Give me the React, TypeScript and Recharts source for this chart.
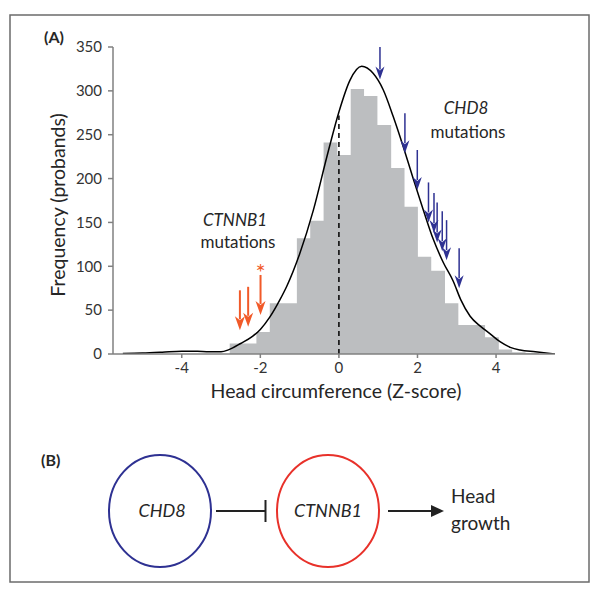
import React from "react";
import {
  ComposedChart,
  Area,
  Line,
  Scatter,
  XAxis,
  YAxis,
  ReferenceLine,
} from "recharts";

// ---- Data ----
const binEdges = [
  -2.78, -2.44, -2.1, -1.76, -1.41, -1.07, -0.73, -0.39, -0.04, 0.3, 0.64,
  0.98, 1.33, 1.67, 2.01, 2.35, 2.7, 3.04, 3.38, 3.72, 4.07, 4.41, 4.75, 5.09,
];
const binCounts = [
  12, 12, 25, 58, 58, 132, 152, 241, 227, 302, 294, 261, 212, 168, 111, 95, 58,
  33, 33, 19, 5, 2, 1, 0,
];

const curveZ = [
  -5.5, -5.0, -4.5, -4.0, -3.6, -3.3, -3.0, -2.8, -2.5, -2.2, -2.0, -1.76,
  -1.5, -1.33, -1.0, -0.65, -0.3, 0, 0.28, 0.58, 0.87, 1.13, 1.38, 1.64, 1.89,
  2.15, 2.4, 2.66, 2.91, 3.1, 3.34, 3.59, 3.85, 4.1, 4.36, 4.61, 5.0, 5.5,
];
const curveDensity = [
  0.5, 1, 2, 3.2, 3, 2.5, 2.5, 5, 12, 20, 28, 42, 62, 77, 114, 164, 226, 276,
  312, 328, 320, 301, 271, 236, 200, 164, 131, 104, 83, 62, 43, 32, 23, 14, 7.6,
  4.5, 2.5, 0,
];

const chd8ArrowZ = [1.045, 1.68, 1.995, 2.28, 2.42, 2.5, 2.63, 2.74, 3.06];
const chd8ArrowTip = [313, 229, 187, 150, 138, 127, 117, 107, 75];

const ctnnb1ArrowZ = [-2.52, -2.31, -1.995];
const ctnnb1ArrowTip = [27, 31, 44.5];
const ctnnb1Starred = [false, false, true];

const xTicks = [-4, -2, 0, 2, 4];
const yTicks = [0, 50, 100, 150, 200, 250, 300, 350];
const xDomain = [-5.75, 5.5];
const yDomain = [0, 350];
const meanLineTop = 272;

const histData = binEdges.map((z, i) => ({ z, count: binCounts[i] }));
const curveData = curveZ.map((z, i) => ({ z, density: curveDensity[i] }));
const chd8Data = chd8ArrowZ.map((z, i) => ({ z, tip: chd8ArrowTip[i] }));
const ctnnb1Data = ctnnb1ArrowZ.map((z, i) => ({
  z,
  tip: ctnnb1ArrowTip[i],
  star: ctnnb1Starred[i],
}));

// ---- Styles ----
const FONT = "Lato, 'Open Sans', sans-serif";
const BLUE = "#2e3192";
const ORANGE = "#f15a29";
const RED = "#e8312a";
const GRAY_BAR = "#bcbec0";
const AXIS_GRAY = "#808080";
const TEXT = "#262626";

const makeArrow =
  (color: string, shaftW: number, headW: number, headL: number) =>
  (props: any) => {
    const { cx, cy, payload } = props;
    if (cx == null || cy == null) return null;
    const len = 40;
    return (
      <g>
        <line
          x1={cx}
          y1={cy - len}
          x2={cx}
          y2={cy - headL + 3}
          stroke={color}
          strokeWidth={shaftW}
        />
        <path
          d={`M${cx},${cy} L${cx - headW / 2},${cy - headL} L${cx},${
            cy - headL + 4
          } L${cx + headW / 2},${cy - headL} Z`}
          fill={color}
        />
        {payload && payload.star ? (
          <text
            x={cx}
            y={cy - len + 6}
            textAnchor="middle"
            fontFamily={FONT}
            fontSize={24}
            fill={color}
          >
            *
          </text>
        ) : null}
      </g>
    );
  };

const BlueArrow = makeArrow(BLUE, 1.5, 9, 13);
const OrangeArrow = makeArrow(ORANGE, 2, 10, 14);

const B_Y = 511;

export default function App() {
  return (
    <div
      style={{
        position: "absolute",
        left: 0,
        top: 0,
        width: 601,
        height: 590,
        background: "#fff",
      }}
    >
      <ComposedChart
        width={601}
        height={590}
        margin={{ top: 47, right: 46, bottom: 206, left: 53 }}
        style={{ position: "absolute", left: 0, top: 0 }}
      >
        <XAxis
          type="number"
          dataKey="z"
          domain={xDomain}
          ticks={xTicks}
          allowDataOverflow
          height={30}
          stroke={AXIS_GRAY}
          strokeWidth={1.5}
          tickSize={4}
          tickMargin={4}
          tick={{ fill: "#333", fontFamily: FONT, fontSize: 15 }}
        />
        <YAxis
          type="number"
          domain={yDomain}
          ticks={yTicks}
          allowDataOverflow
          width={60}
          stroke={AXIS_GRAY}
          strokeWidth={1.5}
          tickSize={5}
          tickMargin={6}
          tick={{ fill: "#333", fontFamily: FONT, fontSize: 15 }}
        />
        <Area
          data={histData}
          dataKey="count"
          type="stepAfter"
          fill={GRAY_BAR}
          fillOpacity={1}
          stroke="none"
          isAnimationActive={false}
          baseValue={0}
        />
        <ReferenceLine
          segment={[
            { x: 0, y: 0 },
            { x: 0, y: meanLineTop },
          ]}
          stroke="#000"
          strokeWidth={1.5}
          strokeDasharray="5 4"
        />
        <Line
          data={curveData}
          dataKey="density"
          type="monotone"
          stroke="#000"
          strokeWidth={1.5}
          dot={false}
          isAnimationActive={false}
        />
        <Scatter
          data={chd8Data}
          dataKey="tip"
          shape={BlueArrow}
          isAnimationActive={false}
        />
        <Scatter
          data={ctnnb1Data}
          dataKey="tip"
          shape={OrangeArrow}
          isAnimationActive={false}
        />
      </ComposedChart>
      <svg
        width={601}
        height={590}
        style={{ position: "absolute", left: 0, top: 0, pointerEvents: "none" }}
      >
        <rect
          x={10}
          y={15}
          width={579}
          height={567}
          fill="none"
          stroke="#6b6b6b"
          strokeWidth={1.5}
        />
        <text
          x={44}
          y={43}
          fontFamily={FONT}
          fontWeight="bold"
          fontSize={16}
          fill={TEXT}
        >
          (A)
        </text>
        <text
          x={57}
          y={205}
          transform="rotate(-90 57 205)"
          textAnchor="middle"
          dominantBaseline="central"
          fontFamily={FONT}
          fontSize={19.5}
          fill={TEXT}
        >
          Frequency (probands)
        </text>
        <text
          x={336}
          y={398}
          textAnchor="middle"
          fontFamily={FONT}
          fontSize={19.5}
          fill={TEXT}
        >
          Head circumference (Z-score)
        </text>
        <text
          x={235}
          y={226}
          textAnchor="middle"
          fontFamily={FONT}
          fontStyle="italic"
          fontSize={17}
          fill={TEXT}
        >
          CTNNB1
        </text>
        <text
          x={238}
          y={248}
          textAnchor="middle"
          fontFamily={FONT}
          fontSize={17}
          fill={TEXT}
        >
          mutations
        </text>
        <text
          x={466}
          y={114}
          textAnchor="middle"
          fontFamily={FONT}
          fontStyle="italic"
          fontSize={17}
          fill={TEXT}
        >
          CHD8
        </text>
        <text
          x={468}
          y={138}
          textAnchor="middle"
          fontFamily={FONT}
          fontSize={17}
          fill={TEXT}
        >
          mutations
        </text>

        {/* Panel B */}
        <text
          x={41}
          y={466}
          fontFamily={FONT}
          fontWeight="bold"
          fontSize={16}
          fill={TEXT}
        >
          (B)
        </text>
        <ellipse
          cx={160}
          cy={B_Y}
          rx={51}
          ry={56}
          fill="none"
          stroke={BLUE}
          strokeWidth={2}
        />
        <text
          x={162}
          y={B_Y + 6}
          textAnchor="middle"
          fontFamily={FONT}
          fontStyle="italic"
          fontSize={18}
          fill={TEXT}
        >
          CHD8
        </text>
        <line x1={216} y1={B_Y} x2={265.5} y2={B_Y} stroke="#222" strokeWidth={2} />
        <line
          x1={265.5}
          y1={B_Y - 11}
          x2={265.5}
          y2={B_Y + 11}
          stroke="#222"
          strokeWidth={2}
        />
        <ellipse
          cx={328}
          cy={B_Y}
          rx={51}
          ry={56}
          fill="none"
          stroke={RED}
          strokeWidth={2}
        />
        <text
          x={328}
          y={B_Y + 6}
          textAnchor="middle"
          fontFamily={FONT}
          fontStyle="italic"
          fontSize={18}
          fill={TEXT}
        >
          CTNNB1
        </text>
        <line x1={388} y1={B_Y} x2={434} y2={B_Y} stroke="#222" strokeWidth={2} />
        <path
          d={`M444,${B_Y} L431,${B_Y - 6} L431,${B_Y + 6} Z`}
          fill="#222"
        />
        <text x={451} y={B_Y - 8} fontFamily={FONT} fontSize={19} fill={TEXT}>
          Head
        </text>
        <text x={451} y={B_Y + 19} fontFamily={FONT} fontSize={19} fill={TEXT}>
          growth
        </text>
      </svg>
    </div>
  );
}
